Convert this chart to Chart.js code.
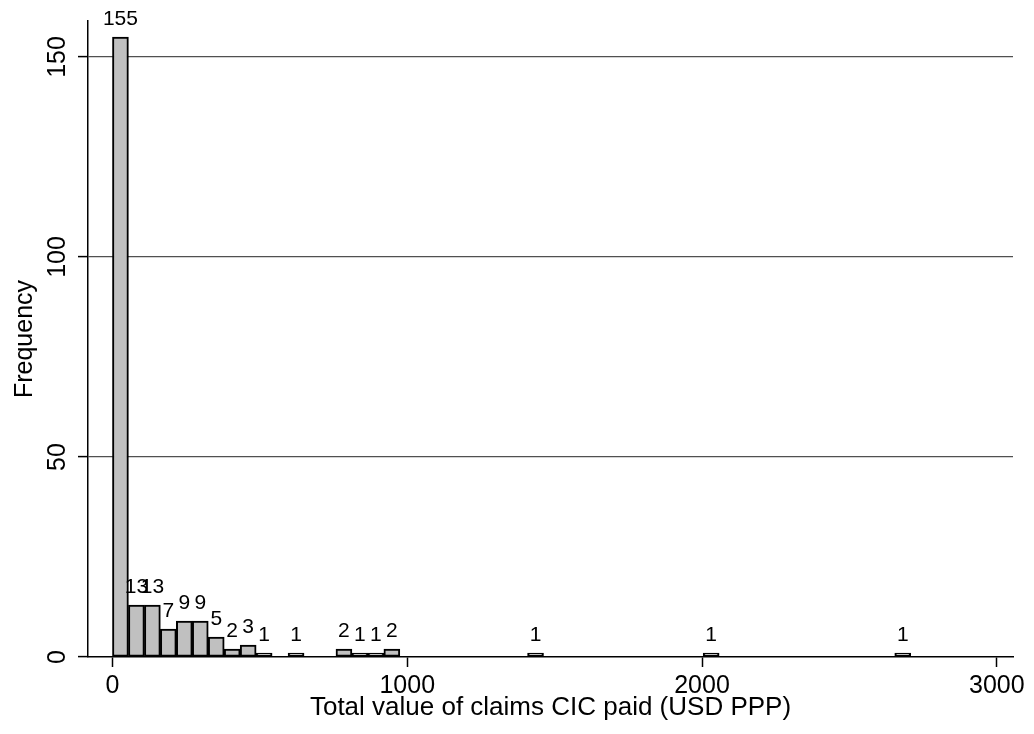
<!DOCTYPE html>
<html><head><meta charset="utf-8">
<script src="https://cdn.jsdelivr.net/npm/chart.js@4"></script>
<style>html,body{margin:0;padding:0;background:#fff}#wrap{width:1034px;height:734px}</style>
</head><body><div id="wrap"><canvas id="c" width="1034" height="734"></canvas></div>
<script>
// Histogram data (50 bins)
const binStart = 0;
const binWidth = 54.16;
const counts = [155,13,13,7,9,9,5,2,3,1,0,1,0,0,2,1,1,2,0,0,0,0,0,0,0,0,1,0,0,0,0,0,0,0,0,0,0,1,0,0,0,0,0,0,0,0,0,0,0,1];
const xTicks = [0,1000,2000,3000];
const yTicks = [0,50,100,150];
const xTitle = 'Total value of claims CIC paid (USD PPP)';
const yTitle = 'Frequency';

const FONT = '"Liberation Sans", Arial, Helvetica, sans-serif';
const points = counts.map((c, i) => ({x: binStart + binWidth * (i + 0.5), y: c}));

const labelPlugin = {
  id: 'labels',
  afterDatasetsDraw(chart) {
    const ctx = chart.ctx;
    const meta = chart.getDatasetMeta(0);
    ctx.save();
    ctx.fillStyle = '#000';
    ctx.font = '21px ' + FONT;
    ctx.textAlign = 'center';
    ctx.textBaseline = 'alphabetic';
    meta.data.forEach((bar, i) => {
      if (counts[i] > 0) ctx.fillText(String(counts[i]), bar.x, bar.y - 12);
    });
    ctx.restore();
  },
  afterDraw(chart) {
    const ctx = chart.ctx;
    const ys = chart.scales.y;
    ctx.save();
    ctx.fillStyle = '#000';
    ctx.font = '25px ' + FONT;
    ctx.textAlign = 'center';
    ctx.textBaseline = 'alphabetic';
    ys.ticks.forEach(t => {
      const py = ys.getPixelForValue(t.value);
      ctx.save();
      ctx.translate(65, py);
      ctx.rotate(-Math.PI / 2);
      ctx.fillText(String(t.value), 0, 0);
      ctx.restore();
    });
    ctx.restore();
  }
};

new Chart(document.getElementById('c'), {
  type: 'bar',
  data: {
    datasets: [{
      data: points,
      backgroundColor: '#c0c0c0',
      borderColor: '#000',
      borderWidth: 2,
      borderSkipped: false,
      barPercentage: 1,
      categoryPercentage: 1,
      grouped: false
    }]
  },
  options: {
    responsive: false,
    animation: false,
    devicePixelRatio: 1,
    layout: {padding: {left: 0, top: 21, right: 21, bottom: 0}},
    plugins: {legend: {display: false}, tooltip: {enabled: false}},
    scales: {
      x: {
        type: 'linear',
        min: -83,
        max: 3055,
        offset: false,
        afterBuildTicks: s => { s.ticks = xTicks.map(v => ({value: v})); },
        afterFit: s => { s.height = 77; },
        ticks: {font: {family: FONT, size: 25}, color: '#000', padding: 4, maxRotation: 0, autoSkip: false,
                callback: v => String(v)},
        grid: {offset: false, drawOnChartArea: false, drawTicks: true, tickLength: 10, tickColor: '#000', tickWidth: 1.5},
        border: {display: true, color: '#000', width: 1.5},
        title: {display: true, text: xTitle, color: '#000', font: {family: FONT, size: 26, lineHeight: 1.2}, padding: {top: 0, bottom: 11}}
      },
      y: {
        min: 0,
        max: 159,
        afterBuildTicks: s => { s.ticks = yTicks.map(v => ({value: v})); },
        afterFit: s => { s.width = 88; },
        ticks: {display: false},
        grid: {
          color: ctx => (ctx.tick && ctx.tick.value === 0) ? 'rgba(0,0,0,0)' : '#505050',
          lineWidth: 1.2,
          drawTicks: true, tickLength: 10, tickColor: '#000', tickWidth: 1.5
        },
        border: {display: true, color: '#000', width: 1.5},
        title: {display: true, text: yTitle, color: '#000', font: {family: FONT, size: 25, lineHeight: 1.2}, padding: {top: 10, bottom: 0}}
      }
    }
  },
  plugins: [labelPlugin]
});
</script></body></html>
